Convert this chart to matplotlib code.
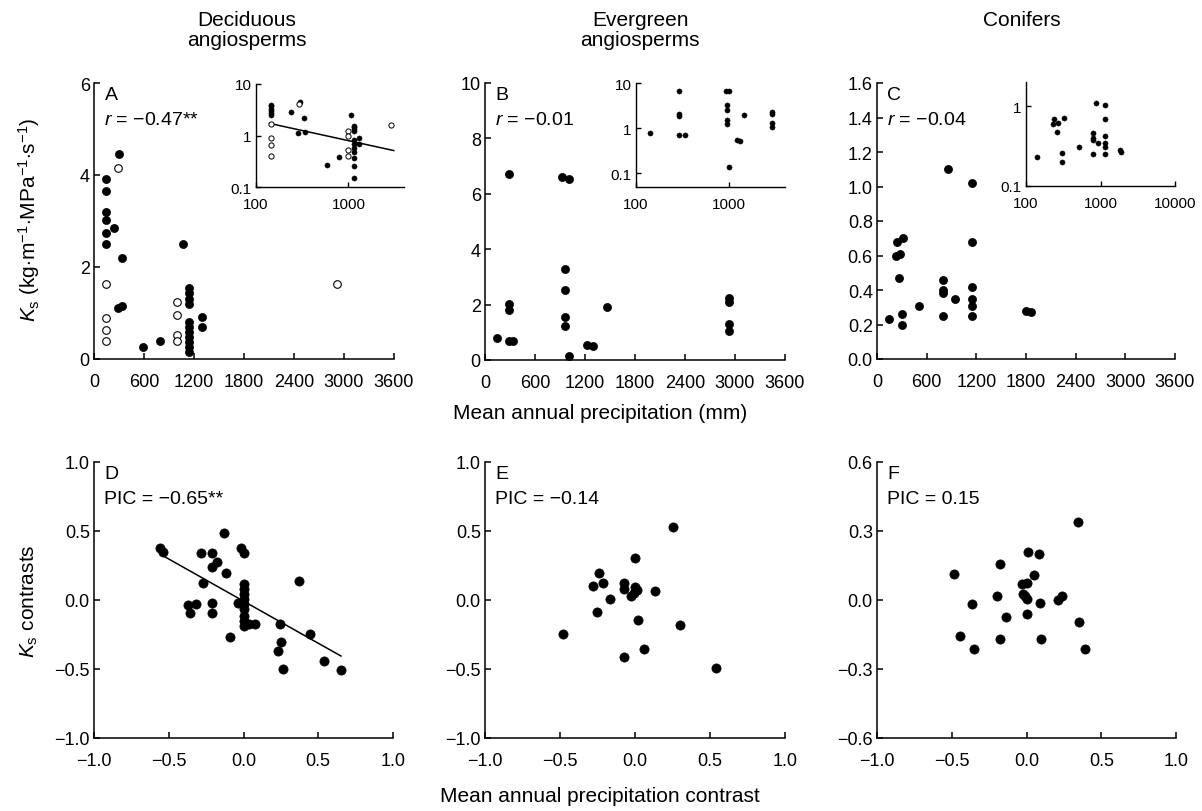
import numpy as np
import matplotlib
matplotlib.use("Agg")
import matplotlib.pyplot as plt
from matplotlib.ticker import FixedLocator, FixedFormatter, NullLocator

plt.rcParams['font.family'] = ['Liberation Sans', 'DejaVu Sans']
plt.rcParams['mathtext.fontset'] = 'custom'
plt.rcParams['mathtext.rm'] = 'Liberation Sans'
plt.rcParams['mathtext.it'] = 'Liberation Sans:italic'
plt.rcParams['axes.unicode_minus'] = True

# ---------------- Data ----------------
# Panel A: deciduous angiosperms (filled = one group, open = other group)
a_fill_x = [144, 144, 144, 144, 144, 144, 240, 296, 332, 288, 336, 592, 792, 1072,
            1144, 1144, 1144, 1144, 1144, 1144, 1144, 1144, 1144, 1144, 1144, 1300, 1300]
a_fill_y = [3.91, 3.66, 3.20, 3.02, 2.73, 2.51, 2.85, 4.46, 2.20, 1.11, 1.15, 0.27, 0.39, 2.50,
            1.54, 1.44, 1.31, 1.20, 0.80, 0.69, 0.58, 0.47, 0.36, 0.26, 0.15, 0.91, 0.69]
a_open_x = [292, 144, 144, 144, 144, 1000, 1000, 1000, 1000, 2920]
a_open_y = [4.15, 1.64, 0.89, 0.64, 0.40, 1.25, 0.96, 0.52, 0.40, 1.62]
a_fit_x = [140, 3100]
a_fit_y = [1.72, 0.51]

# Panel B: evergreen angiosperms
b_x = [140, 288, 288, 288, 288, 340, 920, 1012, 956, 956, 956, 956, 1008,
       1220, 1300, 1460, 2932, 2932, 2932, 2932]
b_y = [0.79, 6.70, 2.03, 1.82, 0.70, 0.70, 6.59, 6.55, 3.29, 2.51, 1.55, 1.24, 0.14,
       0.55, 0.52, 1.91, 2.23, 2.09, 1.30, 1.06]

# Panel C: conifers
c_x = [140, 240, 320, 232, 272, 260, 300, 300, 508, 800, 800, 800, 792, 860, 940,
       1152, 1152, 1152, 1152, 1152, 1152, 1800, 1860]
c_y = [0.23, 0.68, 0.70, 0.60, 0.61, 0.47, 0.26, 0.20, 0.31, 0.46, 0.40, 0.38, 0.25, 1.10, 0.35,
       1.02, 0.68, 0.42, 0.35, 0.31, 0.25, 0.28, 0.27]

# Panel D: PIC deciduous
d_x = [-0.558, -0.540, -0.286, -0.212, -0.179, -0.212, -0.129, -0.116, -0.016, 0.004, -0.268,
       0.004, 0.004, 0.004, 0.004, 0.004, 0.004, 0.004, 0.004, 0.004,
       -0.040, -0.368, -0.317, -0.357, -0.212, -0.208, 0.040, 0.078, -0.089, 0.241,
       0.373, 0.442, 0.252, 0.228, 0.263, 0.536, 0.652]
d_y = [0.379, 0.348, 0.338, 0.338, 0.275, 0.242, 0.483, 0.198, 0.379, 0.338, 0.126,
       0.114, 0.077, 0.041, 0.005, -0.031, -0.068, -0.116, -0.152, -0.188,
       -0.024, -0.039, -0.031, -0.092, -0.019, -0.092, -0.176, -0.176, -0.266, -0.176,
       0.138, -0.249, -0.304, -0.370, -0.498, -0.442, -0.507]
d_fit_x = [-0.536, 0.652]
d_fit_y = [0.319, -0.406]

# Panel E: PIC evergreen
e_x = [0.251, 0.000, -0.238, -0.282, -0.211, -0.073, -0.073, 0.000, 0.016, -0.029, -0.007,
       0.133, -0.167, -0.256, 0.022, 0.300, -0.482, 0.062, -0.073, 0.540]
e_y = [0.530, 0.301, 0.193, 0.101, 0.120, 0.120, 0.082, 0.096, 0.072, 0.029, 0.053,
       0.065, 0.010, -0.084, -0.145, -0.181, -0.243, -0.357, -0.410, -0.494]

# Panel F: PIC conifers
f_x = [0.345, 0.009, 0.082, -0.178, -0.486, 0.053, -0.029, 0.004, -0.022, -0.013, 0.004,
       -0.200, -0.363, 0.089, 0.212, 0.238, -0.134, 0.004, 0.350, -0.448, -0.174, 0.098,
       -0.352, 0.394]
f_y = [0.340, 0.208, 0.201, 0.155, 0.111, 0.107, 0.068, 0.075, 0.027, 0.017, 0.006,
       0.017, -0.019, -0.014, 0.000, 0.017, -0.074, -0.062, -0.095, -0.156, -0.171, -0.171,
       -0.211, -0.214]

group_titles = ["Deciduous\nangiosperms", "Evergreen\nangiosperms", "Conifers"]
top_letters = ["A", "B", "C"]
top_stats = [r"$\mathit{r}$ = −0.47**", r"$\mathit{r}$ = −0.01", r"$\mathit{r}$ = −0.04"]
bot_letters = ["D", "E", "F"]
bot_stats = ["PIC = −0.65**", "PIC = −0.14", "PIC = 0.15"]

precip_ticks = [0, 600, 1200, 1800, 2400, 3000, 3600]
a_yticks = [0, 2, 4, 6]
b_yticks = [0, 2, 4, 6, 8, 10]
c_yticks = [0.0, 0.2, 0.4, 0.6, 0.8, 1.0, 1.2, 1.4, 1.6]
pic_xticks = [-1.0, -0.5, 0.0, 0.5, 1.0]
de_yticks = [-1.0, -0.5, 0.0, 0.5, 1.0]
f_yticks = [-0.6, -0.3, 0.0, 0.3, 0.6]

# ---------------- Figure ----------------
W, H = 1202, 812
fig = plt.figure(figsize=(W / 100, H / 100), dpi=100)


def add_ax(l, r, t, b):
    return fig.add_axes([l / W, 1 - b / H, (r - l) / W, (b - t) / H])


def style(ax, fs=13, lw=1.1, tl=4, xpad=10, ypad=3):
    for s in ['top', 'right']:
        ax.spines[s].set_visible(False)
    for s in ['left', 'bottom']:
        ax.spines[s].set_linewidth(lw)
    ax.tick_params(direction='in', length=tl, width=lw, labelsize=fs)
    ax.tick_params(axis='x', pad=xpad)
    ax.tick_params(axis='y', pad=ypad)
    ax.xaxis.set_minor_locator(NullLocator())
    ax.yaxis.set_minor_locator(NullLocator())


def fmt_minus(v, dec):
    s = f"{v:.{dec}f}"
    return s.replace("-", "−")


FS = 13
main_s = 34
open_s = 30
inset_s = 14
pic_s = 44

axA = add_ax(94, 394, 84, 360)
axB = add_ax(485, 785, 84, 361)
axC = add_ax(877, 1175, 84, 360)
axD = add_ax(94, 393, 463, 739)
axE = add_ax(485, 785, 463, 739)
axF = add_ax(877, 1176, 463, 739)

for ax in (axA, axB, axC, axD, axE, axF):
    style(ax, FS)

# A
axA.scatter(a_fill_x, a_fill_y, s=main_s, c='black', edgecolors='black', linewidths=0.5, zorder=3)
axA.scatter(a_open_x, a_open_y, s=open_s, facecolors='white', edgecolors='black', linewidths=0.8, zorder=3)
axA.set_xlim(0, 3600)
axA.set_ylim(0, 6)
axA.set_xticks(precip_ticks)
axA.set_yticks(a_yticks)

# B
axB.scatter(b_x, b_y, s=main_s, c='black', edgecolors='black', linewidths=0.5, zorder=3)
axB.set_xlim(0, 3600)
axB.set_ylim(0, 10)
axB.set_xticks(precip_ticks)
axB.set_yticks(b_yticks)

# C
axC.scatter(c_x, c_y, s=main_s, c='black', edgecolors='black', linewidths=0.5, zorder=3)
axC.set_xlim(0, 3600)
axC.set_ylim(0, 1.6)
axC.set_xticks(precip_ticks)
axC.set_yticks(c_yticks)
axC.set_yticklabels([f"{v:.1f}" for v in c_yticks])

# D, E, F
for ax, xs, ys, yt in ((axD, d_x, d_y, de_yticks), (axE, e_x, e_y, de_yticks), (axF, f_x, f_y, f_yticks)):
    ax.scatter(xs, ys, s=pic_s, c='black', edgecolors='black', linewidths=0.5, zorder=3)
    ax.set_xlim(-1, 1)
    ax.set_ylim(yt[0], yt[-1])
    ax.set_xticks(pic_xticks)
    ax.set_xticklabels([fmt_minus(v, 1) for v in pic_xticks])
    ax.set_yticks(yt)
    ax.set_yticklabels([fmt_minus(v, 1) for v in yt])
axD.plot(d_fit_x, d_fit_y, color='black', lw=1.1, zorder=2)

# letters / statistics
for ax, let, st in zip((axA, axB, axC), top_letters, top_stats):
    ax.text(0.035, 0.99, let, transform=ax.transAxes, ha='left', va='top', fontsize=FS + 1)
    ax.text(0.035, 0.90, st, transform=ax.transAxes, ha='left', va='top', fontsize=FS + 1)
for ax, let, st in zip((axD, axE, axF), bot_letters, bot_stats):
    ax.text(0.035, 0.99, let, transform=ax.transAxes, ha='left', va='top', fontsize=FS + 1)
    ax.text(0.035, 0.90, st, transform=ax.transAxes, ha='left', va='top', fontsize=FS + 1)

# insets
IFS = 11
iA = add_ax(256, 404, 85, 188)
iB = add_ax(636, 785, 84, 188)
iC = add_ax(1026, 1175, 83, 187)
for ax in (iA, iB, iC):
    ax.set_xscale('log')
    ax.set_yscale('log')
    style(ax, IFS, lw=1.0, tl=3.5, xpad=7, ypad=3)
    ax.patch.set_alpha(0)

iA.scatter(a_fill_x, a_fill_y, s=inset_s, c='black', edgecolors='black', linewidths=0.3, zorder=3)
iA.scatter(a_open_x, a_open_y, s=inset_s, facecolors='white', edgecolors='black', linewidths=0.7, zorder=3)
iA.plot(a_fit_x, a_fit_y, color='black', lw=1.1, zorder=2)
iA.set_xlim(100, 4000)
iA.set_ylim(0.1, 10)

iB.scatter(b_x, b_y, s=inset_s, c='black', edgecolors='black', linewidths=0.3, zorder=3)
iB.set_xlim(100, 4000)
iB.set_ylim(0.05, 10)

iC.scatter(c_x, c_y, s=inset_s, c='black', edgecolors='black', linewidths=0.3, zorder=3)
iC.set_xlim(100, 10000)
iC.set_ylim(0.1, 2)

for ax, xt, yt in ((iA, [100, 1000], [0.1, 1, 10]),
                   (iB, [100, 1000], [0.1, 1, 10]),
                   (iC, [100, 1000, 10000], [0.1, 1])):
    ax.xaxis.set_major_locator(FixedLocator(xt))
    ax.xaxis.set_major_formatter(FixedFormatter([f"{v:g}" for v in xt]))
    ax.yaxis.set_major_locator(FixedLocator(yt))
    ax.yaxis.set_major_formatter(FixedFormatter([f"{v:g}" for v in yt]))
    ax.xaxis.set_minor_locator(NullLocator())
    ax.yaxis.set_minor_locator(NullLocator())

# titles
title_x = [247, 640, 1022]
for tx, tt in zip(title_x, group_titles):
    fig.text(tx / W, 1 - 11 / H, tt, ha='center', va='top', fontsize=15, linespacing=1.1)

# axis labels
fig.text(600 / W, 1 - 414 / H, "Mean annual precipitation (mm)", ha='center', va='center', fontsize=15)
fig.text(600 / W, 1 - 797 / H, "Mean annual precipitation contrast", ha='center', va='center', fontsize=15)
fig.text(29 / W, 1 - 220 / H,
         r"$\mathit{K}_\mathrm{s}$ (kg$\cdot$m$^{-1}$$\cdot$MPa$^{-1}$$\cdot$s$^{-1}$)",
         rotation=90, ha='center', va='center', fontsize=15)
fig.text(29 / W, 1 - 601 / H, r"$\mathit{K}_\mathrm{s}$ contrasts",
         rotation=90, ha='center', va='center', fontsize=15)

fig.savefig("out.png", dpi=100, facecolor='white')
